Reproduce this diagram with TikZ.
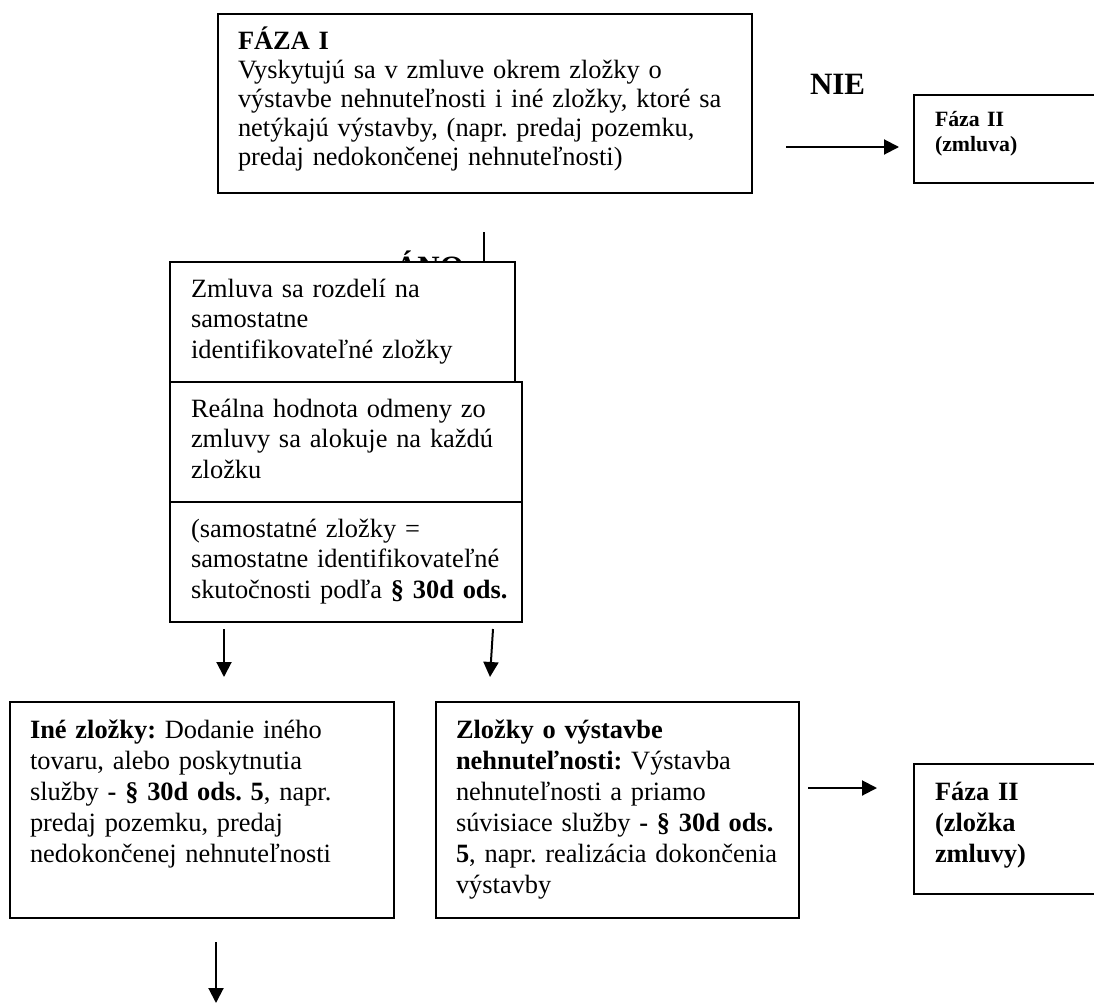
\documentclass[tikz,border=0pt]{standalone}
\usepackage{fontspec}
\setmainfont{Liberation Serif}
\usetikzlibrary{arrows.meta}
\frenchspacing
\begin{document}
\frenchspacing
\begin{tikzpicture}[x=1pt,y=-1pt,
  boxs/.style={draw, line width=2.2pt, fill=white, anchor=north west, inner sep=0pt, outer sep=0pt},
  txt/.style={anchor=base west, inner sep=0pt, outer sep=0pt, text width=560pt, align=left, font=\fontsize{26.4}{30.5}\selectfont\frenchspacing},
  txtb/.style={txt, font=\fontsize{26.4}{31}\selectfont\bfseries\frenchspacing},
  txts/.style={txt, font=\fontsize{21.8}{25}\selectfont\bfseries\frenchspacing},
  lbl/.style={anchor=base west, inner sep=0pt, outer sep=0pt, font=\fontsize{31}{36}\selectfont\bfseries},
  arr/.style={line width=2pt, -{Triangle[length=15pt,width=15pt]}},
  plain/.style={line width=2pt}]
\useasboundingbox (0,0) rectangle (1094,1003);
\clip (0,0) rectangle (1094,1003);

% top box
\node[boxs, minimum width=534pt, minimum height=179pt] (b1) at (218,14) {};
\node[txt, font=\fontsize{26.4}{29}\selectfont\frenchspacing] (t1) at (238,50) {\textbf{FÁZA I}\\
Vyskytujú sa v zmluve okrem zložky o\\
výstavbe nehnuteľnosti i iné zložky, ktoré sa\\
netýkajú výstavby, (napr. predaj pozemku,\\
predaj nedokončenej nehnuteľnosti)};

% NIE branch
\node[lbl] (nie) at (810,95) {NIE};
\coordinate (n1) at (786,147);
\coordinate (n2) at (899,147);
\draw[arr] (n1) -- (n2);
\node[boxs, minimum width=200pt, minimum height=88pt] (f2a) at (914,95) {};
\node[txts] (f2at) at (935,127) {Fáza II\\(zmluva)};

% ANO branch
\node[lbl] (ano) at (395,277) {ÁNO};
\coordinate (v1) at (484,232);
\coordinate (v2) at (484,262);
\draw[plain] (v1) -- (v2);

% middle stack
\node[boxs, minimum width=345pt, minimum height=120pt] (b2) at (170,262) {};
\node[txt] (t2) at (191,297) {Zmluva sa rozdelí na\\samostatne\\identifikovateľné zložky};
\node[boxs, minimum width=352pt, minimum height=120pt] (b3) at (170,382) {};
\node[txt] (t3) at (191,417) {Reálna hodnota odmeny zo\\zmluvy sa alokuje na každú\\zložku};
\node[boxs, minimum width=352pt, minimum height=120pt] (b4) at (170,502) {};
\node[txt] (t4) at (191,537) {(samostatné zložky =\\samostatne identifikovateľné\\skutočnosti podľa \textbf{§ 30d ods.}};

% arrows down
\coordinate (a1s) at (224,629);
\coordinate (a1e) at (224,677);
\draw[arr] (a1s) -- (a1e);
\coordinate (a2s) at (493,629);
\coordinate (a2e) at (490,677);
\draw[arr] (a2s) -- (a2e);

% lower boxes
\node[boxs, minimum width=384pt, minimum height=216pt] (b5) at (10,702) {};
\node[txt, font=\fontsize{26.4}{31}\selectfont\frenchspacing] (t5) at (30,738) {\textbf{Iné zložky:} Dodanie iného\\
tovaru, alebo poskytnutia\\
služby \textbf{- § 30d ods. 5}, napr.\\
predaj pozemku, predaj\\
nedokončenej nehnuteľnosti};
\node[boxs, minimum width=363pt, minimum height=216pt] (b6) at (436,702) {};
\node[txt, font=\fontsize{26.4}{31}\selectfont\frenchspacing] (t6) at (456,738) {\textbf{Zložky o výstavbe}\\
\textbf{nehnuteľnosti:} Výstavba\\
nehnuteľnosti a priamo\\
súvisiace služby \textbf{- § 30d ods.}\\
\textbf{5}, napr. realizácia dokončenia\\
výstavby};

% to Faza II (zlozka)
\coordinate (r1) at (808,788);
\coordinate (r2) at (877,788);
\draw[arr] (r1) -- (r2);
\node[boxs, minimum width=200pt, minimum height=130pt] (f2b) at (914,764) {};
\node[txtb] (f2bt) at (935,800) {Fáza II\\(zložka\\zmluvy)};

% bottom arrow
\coordinate (d1) at (216,942);
\coordinate (d2) at (216,1003);
\draw[arr] (d1) -- (d2);
\end{tikzpicture}
\end{document}
